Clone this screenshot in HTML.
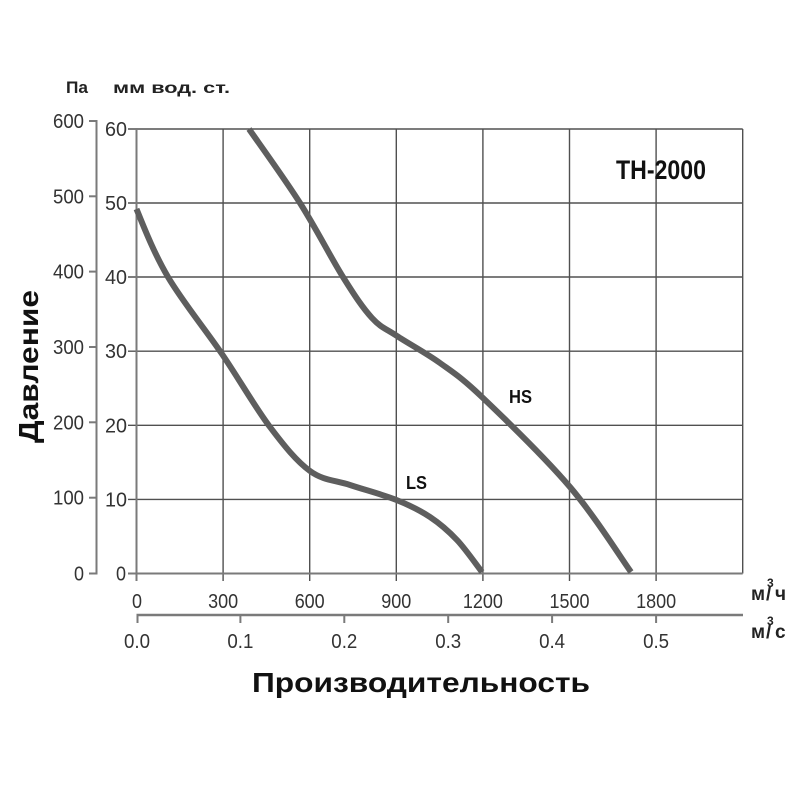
<!DOCTYPE html>
<html><head><meta charset="utf-8"><style>
html,body{margin:0;padding:0;background:#fff;}
svg{display:block;}
text{font-family:"Liberation Sans","DejaVu Sans",sans-serif;}
</style></head><body>
<svg width="800" height="800" viewBox="0 0 800 800" xmlns="http://www.w3.org/2000/svg">
<rect width="800" height="800" fill="#fff"/>
<g stroke="#505050" stroke-width="1.4" fill="none">
<line x1="223.1" y1="129" x2="223.1" y2="581"/>
<line x1="309.7" y1="129" x2="309.7" y2="581"/>
<line x1="396.3" y1="129" x2="396.3" y2="581"/>
<line x1="482.9" y1="129" x2="482.9" y2="581"/>
<line x1="569.5" y1="129" x2="569.5" y2="581"/>
<line x1="656.1" y1="129" x2="656.1" y2="581"/>
<line x1="742.7" y1="129" x2="742.7" y2="573.5"/>
<line x1="128" y1="129" x2="742.7" y2="129"/>
<line x1="128" y1="203" x2="742.7" y2="203"/>
<line x1="128" y1="277" x2="742.7" y2="277"/>
<line x1="128" y1="351.2" x2="742.7" y2="351.2"/>
<line x1="128" y1="425.3" x2="742.7" y2="425.3"/>
<line x1="128" y1="499.4" x2="742.7" y2="499.4"/>
</g>
<g stroke="#7a7a7a" stroke-width="2" fill="none">
<line x1="128" y1="573.5" x2="742.7" y2="573.5"/>
<line x1="136.5" y1="128" x2="136.5" y2="581"/>
<polyline points="89,121 96.5,121 96.5,573.5 89,573.5"/>
<line x1="89" y1="196.3" x2="96.5" y2="196.3"/>
<line x1="89" y1="271.6" x2="96.5" y2="271.6"/>
<line x1="89" y1="347" x2="96.5" y2="347"/>
<line x1="89" y1="422.3" x2="96.5" y2="422.3"/>
<line x1="89" y1="497.7" x2="96.5" y2="497.7"/>
<line x1="136.5" y1="615" x2="743" y2="615" stroke-width="2.5"/>
<line x1="137.5" y1="615" x2="137.5" y2="623"/>
<line x1="240.4" y1="615" x2="240.4" y2="623"/>
<line x1="344.3" y1="615" x2="344.3" y2="623"/>
<line x1="448.2" y1="615" x2="448.2" y2="623"/>
<line x1="552.1" y1="615" x2="552.1" y2="623"/>
<line x1="656.1" y1="615" x2="656.1" y2="623"/>
</g>
<g stroke="#5e5e5e" stroke-width="6" fill="none" stroke-linejoin="round">
<path d="M136.5,209 C143,225 153.75,252.8 168,277 C182.25,301.2 205,329 222,354 C239,379 255.3,407.5 270,427 C284.7,446.5 296.7,461.3 310,471 C323.3,480.7 335.6,480.2 350,485 C364.4,489.8 383.2,494.7 396.5,500 C409.8,505.3 419.9,510.3 430,517 C440.1,523.7 448.3,530.8 457,540 C465.7,549.2 477.8,566.7 482,572"/>
<path d="M249,129 C257.5,141.3 284.3,178.3 300,203 C315.7,227.7 331,257.8 343,277 C355,296.2 363,308.2 372,318 C381,327.8 385.7,328.5 397,336 C408.3,343.5 425.7,352.7 440,363 C454.3,373.3 461.3,377.3 483,398 C504.7,418.7 545.3,458 570,487 C594.7,516 620.8,557.8 631,572"/>
</g>
<g fill="#333" font-size="20" text-anchor="end">
<text x="84" y="128" textLength="31" lengthAdjust="spacingAndGlyphs">600</text>
<text x="84" y="203.3" textLength="31" lengthAdjust="spacingAndGlyphs">500</text>
<text x="84" y="278.6" textLength="31" lengthAdjust="spacingAndGlyphs">400</text>
<text x="84" y="354" textLength="31" lengthAdjust="spacingAndGlyphs">300</text>
<text x="84" y="429.3" textLength="31" lengthAdjust="spacingAndGlyphs">200</text>
<text x="84" y="504.7" textLength="31" lengthAdjust="spacingAndGlyphs">100</text>
<text x="84" y="580.5" textLength="10" lengthAdjust="spacingAndGlyphs">0</text>
<text x="127" y="136" textLength="22" lengthAdjust="spacingAndGlyphs">60</text>
<text x="127" y="210" textLength="22" lengthAdjust="spacingAndGlyphs">50</text>
<text x="127" y="284" textLength="22" lengthAdjust="spacingAndGlyphs">40</text>
<text x="127" y="358.2" textLength="22" lengthAdjust="spacingAndGlyphs">30</text>
<text x="127" y="432.3" textLength="22" lengthAdjust="spacingAndGlyphs">20</text>
<text x="127" y="506.4" textLength="22" lengthAdjust="spacingAndGlyphs">10</text>
<text x="126" y="580.5" textLength="10" lengthAdjust="spacingAndGlyphs">0</text>
</g>
<g fill="#333" font-size="20" text-anchor="middle">
<text x="137" y="608" textLength="10" lengthAdjust="spacingAndGlyphs">0</text>
<text x="223.1" y="608" textLength="30" lengthAdjust="spacingAndGlyphs">300</text>
<text x="309.7" y="608" textLength="30" lengthAdjust="spacingAndGlyphs">600</text>
<text x="396.3" y="608" textLength="30" lengthAdjust="spacingAndGlyphs">900</text>
<text x="482.9" y="608" textLength="40" lengthAdjust="spacingAndGlyphs">1200</text>
<text x="569.5" y="608" textLength="40" lengthAdjust="spacingAndGlyphs">1500</text>
<text x="656.1" y="608" textLength="40" lengthAdjust="spacingAndGlyphs">1800</text>
<text x="137" y="648" textLength="26" lengthAdjust="spacingAndGlyphs">0.0</text>
<text x="240.4" y="648" textLength="26" lengthAdjust="spacingAndGlyphs">0.1</text>
<text x="344.3" y="648" textLength="26" lengthAdjust="spacingAndGlyphs">0.2</text>
<text x="448.2" y="648" textLength="26" lengthAdjust="spacingAndGlyphs">0.3</text>
<text x="552.1" y="648" textLength="26" lengthAdjust="spacingAndGlyphs">0.4</text>
<text x="656.1" y="648" textLength="26" lengthAdjust="spacingAndGlyphs">0.5</text>
</g>
<g fill="#222" font-weight="bold">
<text x="66" y="93" font-size="17" textLength="22" lengthAdjust="spacingAndGlyphs">Па</text>
<text x="113" y="93" font-size="16" textLength="117" lengthAdjust="spacingAndGlyphs">мм вод. ст.</text>
<text x="751" y="600" font-size="19">м</text>
<text x="767" y="587" font-size="12">3</text>
<text x="766" y="600" font-size="19">/</text>
<text x="775" y="600" font-size="19">ч</text>
<text x="751" y="638" font-size="19">м</text>
<text x="767" y="625" font-size="12">3</text>
<text x="766" y="638" font-size="19">/</text>
<text x="775" y="638" font-size="19">с</text>
</g>
<g fill="#111" font-weight="bold">
<text x="616" y="179" font-size="27" textLength="90" lengthAdjust="spacingAndGlyphs">TH-2000</text>
<text x="509" y="403" font-size="18" textLength="23" lengthAdjust="spacingAndGlyphs">HS</text>
<text x="406" y="489" font-size="18" textLength="21" lengthAdjust="spacingAndGlyphs">LS</text>
<text x="252" y="692" font-size="28" textLength="338" lengthAdjust="spacingAndGlyphs">Производительность</text>
<text transform="translate(38,443) rotate(-90)" font-size="28" textLength="153" lengthAdjust="spacingAndGlyphs">Давление</text>
</g>
</svg>
</body></html>
